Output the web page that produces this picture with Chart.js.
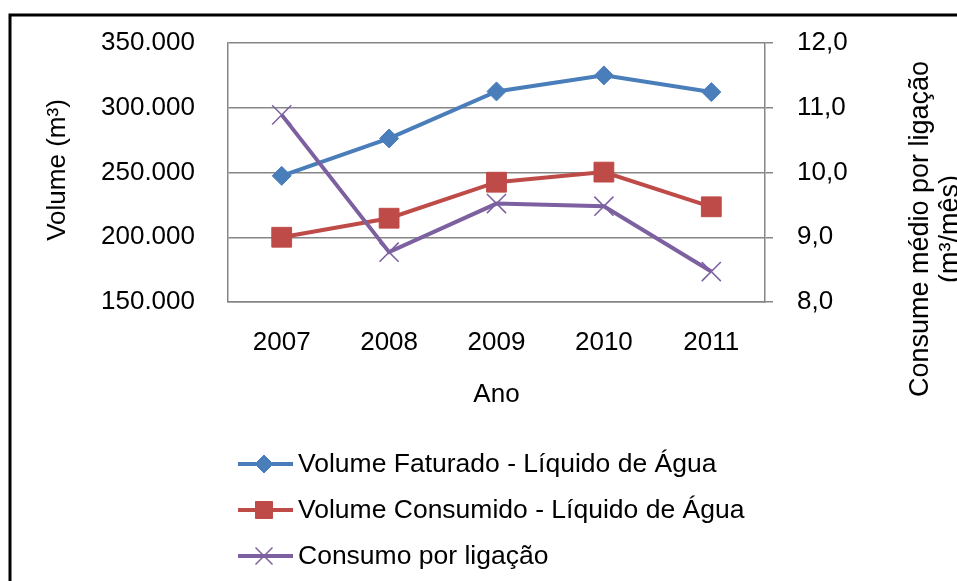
<!DOCTYPE html>
<html>
<head>
<meta charset="utf-8">
<title>Volume e consumo por ligação</title>
<script src="https://cdn.jsdelivr.net/npm/chart.js@4/dist/chart.umd.min.js"></script>
<style>
  html, body { margin: 0; padding: 0; background: #fff; }
  #wrap { width: 957px; height: 581px; overflow: hidden; }
</style>
</head>
<body>
<div id="wrap"><canvas id="grafico" width="957" height="581"></canvas></div>
<script>
"use strict";

// dados
const anos = ['2007', '2008', '2009', '2010', '2011'];
const volumeFaturado = [247400, 276300, 312600, 325000, 312100];
const volumeConsumido = [200000, 214700, 242500, 250300, 223500];
const consumoLigacao = [10.89, 8.77, 9.52, 9.48, 8.47];

const volumeTicks = ['150.000', '200.000', '250.000', '300.000', '350.000'];
const consumoTicks = ['8,0', '9,0', '10,0', '11,0', '12,0'];

const nomes = [
    'Volume Faturado - Líquido de Água',
    'Volume Consumido - Líquido de Água',
    'Consumo por ligação'
];

const AZUL = '#4A7EBB', VERMELHO = '#BE4B48', ROXO = '#7D60A0', CINZA = '#868686';
const FONTE = '"Liberation Sans", Arial, sans-serif';
const LINHA = 4;

Chart.defaults.font.family = FONTE;
Chart.defaults.font.size = 26;
Chart.defaults.color = '#000';

function marcador(ctx, estilo, raio, cor, largura, x, y) {
    const opts = { pointStyle: estilo, radius: raio, rotation: 0, borderWidth: largura };
    ctx.save();
    ctx.fillStyle = cor;
    ctx.strokeStyle = cor;
    ctx.lineWidth = largura;
    Chart.helpers.drawPoint(ctx, opts, x, y);
    ctx.restore();
}

// eixos verticais: largura fixa, sem folga extra em cima/embaixo
function larguraFixa(w) {
    return function (scale) {
        scale.width = w;
        scale.paddingTop = 0;
        scale.paddingBottom = 0;
    };
}

// moldura, títulos dos eixos e legenda
const extras = {
    id: 'extras',
    beforeDraw(chart) {
        const ctx = chart.ctx;
        ctx.save();
        ctx.strokeStyle = '#000';
        ctx.lineWidth = 3;
        ctx.strokeRect(10, 15, 2000, 2000);
        ctx.restore();
    },
    afterDraw(chart) {
        const ctx = chart.ctx;
        const area = chart.chartArea;
        ctx.save();
        ctx.fillStyle = '#000';
        ctx.font = '26px ' + FONTE;
        ctx.textAlign = 'center';
        ctx.textBaseline = 'middle';

        ctx.fillText('Ano', (area.left + area.right) / 2, 395);

        ctx.save();
        ctx.translate(58, 170);
        ctx.rotate(-Math.PI / 2);
        ctx.fillText('Volume (m³)', 0, 0);
        ctx.restore();

        ctx.save();
        ctx.font = '27px ' + FONTE;
        ctx.translate(921, 229);
        ctx.rotate(-Math.PI / 2);
        ctx.fillText('Consume médio por ligação', 0, 0);
        ctx.fillText('(m³/mês)', 0, 30);
        ctx.restore();

        // legenda
        const itens = [
            { cor: AZUL, estilo: 'rectRot', raio: 9, borda: 1 },
            { cor: VERMELHO, estilo: 'rect', raio: 12, borda: 1 },
            { cor: ROXO, estilo: 'crossRot', raio: 12, borda: 1.5 }
        ];
        ctx.font = '26.5px ' + FONTE;
        ctx.textAlign = 'left';
        itens.forEach(function (it, i) {
            const y = 464 + i * 46;
            ctx.strokeStyle = it.cor;
            ctx.lineWidth = LINHA;
            ctx.beginPath();
            ctx.moveTo(238, y);
            ctx.lineTo(293, y);
            ctx.stroke();
            marcador(ctx, it.estilo, it.raio, it.cor, it.borda, 264, y);
            ctx.fillStyle = '#000';
            ctx.fillText(nomes[i], 298, y + 1);
        });
        ctx.restore();
    }
};

new Chart(document.getElementById('grafico'), {
    type: 'line',
    data: {
        labels: anos,
        datasets: [
            {
                label: nomes[0],
                data: volumeFaturado,
                yAxisID: 'y',
                borderColor: AZUL,
                backgroundColor: AZUL,
                borderWidth: LINHA,
                pointStyle: 'rectRot',
                pointRadius: 9.5,
                pointBorderWidth: 1,
                order: 2
            },
            {
                label: nomes[1],
                data: volumeConsumido,
                yAxisID: 'y',
                borderColor: VERMELHO,
                backgroundColor: VERMELHO,
                borderWidth: LINHA,
                pointStyle: 'rect',
                pointRadius: 14,
                pointBorderWidth: 1,
                order: 3
            },
            {
                label: nomes[2],
                data: consumoLigacao,
                yAxisID: 'y1',
                borderColor: ROXO,
                backgroundColor: ROXO,
                borderWidth: LINHA,
                pointStyle: 'crossRot',
                pointRadius: 13.5,
                pointBorderWidth: 1.5,
                order: 1
            }
        ]
    },
    options: {
        responsive: false,
        animation: false,
        devicePixelRatio: 1,
        layout: { autoPadding: false, padding: { left: 0, right: 0, top: 43, bottom: 0 } },
        plugins: {
            legend: { display: false },
            tooltip: { enabled: false }
        },
        elements: { line: { tension: 0 } },
        scales: {
            x: {
                offset: true,
                grid: { display: false, drawTicks: false },
                border: { display: true, color: CINZA, width: 1.5 },
                ticks: { padding: 25, maxRotation: 0 },
                afterFit(scale) { scale.height = 581 - 43 - 259; }
            },
            y: {
                position: 'left',
                min: 150000,
                max: 350000,
                grid: { color: CINZA, lineWidth: 1.5, drawTicks: false },
                border: { display: true, color: CINZA, width: 1.5 },
                ticks: {
                    stepSize: 50000,
                    padding: 33,
                    callback: function (v, i) { return volumeTicks[i]; }
                },
                afterFit: larguraFixa(228)
            },
            y1: {
                position: 'right',
                min: 8,
                max: 12,
                grid: { drawOnChartArea: false, drawTicks: true, tickLength: 8, color: CINZA, lineWidth: 1.5 },
                border: { display: true, color: CINZA, width: 1.5 },
                ticks: {
                    stepSize: 1,
                    padding: 24,
                    callback: function (v, i) { return consumoTicks[i]; }
                },
                afterFit: larguraFixa(957 - 765)
            }
        }
    },
    plugins: [extras]
});
</script>
</body>
</html>
